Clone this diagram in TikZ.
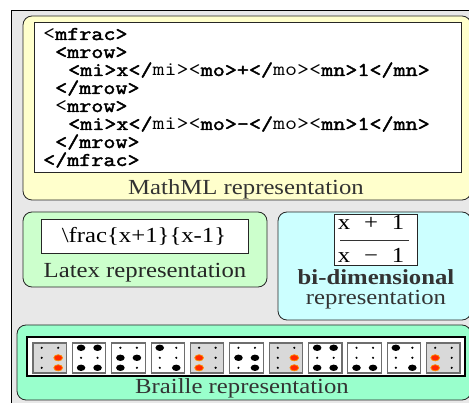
\documentclass[tikz,border=0pt]{standalone}
\usepackage{fontspec}
\newfontfamily\capfont[FakeStretch=1.15]{Liberation Serif}
\newfontfamily\codefont[FakeStretch=1.2, FakeBold=2.2]{Latin Modern Mono}
\newfontfamily\codelite[FakeStretch=1.2]{Latin Modern Mono}
\definecolor{bggray}{HTML}{E8E8E8}
\definecolor{mmlyellow}{HTML}{FFFFCC}
\definecolor{texgreen}{HTML}{CCFFCC}
\definecolor{bicyan}{HTML}{CCFFFF}
\definecolor{braillegreen}{HTML}{99FFCC}
\definecolor{cellgray}{HTML}{D9D9D9}
\definecolor{celledge}{HTML}{6E6E6E}
\definecolor{redot}{HTML}{FF2A00}
\definecolor{redglow}{HTML}{FF9000}
\definecolor{captxt}{HTML}{333333}
\tikzset{
  panel/.style={draw=black!85, line width=0.8pt, rounded corners=9pt},
  inbox/.style={draw=black!85, fill=white, line width=0.8pt},
  caption/.style={font=\capfont\fontsize{21.5}{22}\selectfont, text=captxt, anchor=base, inner sep=0pt},
  codeline/.style={font=\codefont\fontsize{19.5}{19.5}\selectfont, anchor=base west, inner sep=0pt},
  fracglyph/.style={font=\capfont\fontsize{21.5}{22}\selectfont, anchor=base, inner sep=0pt},
  cellbox/.style={draw=celledge, line width=1.1pt},
}
% lighter weight inside a bold code line
\newcommand\lite[1]{{\codelite #1}}
% one Braille dot: 0 = flat, 1 = raised, 2 = raised and highlighted
\newcommand\brailledot[3]{%
  \ifcase#3\relax
    \fill (#1,#2) circle (1.2);
  \or
    \fill (#1,#2) ellipse (4.3 and 3.2);
  \or
    \fill[redot, draw=redglow, line width=0.7pt] (#1,#2) ellipse (4.4 and 3.1);
  \fi}
\begin{document}
\begin{tikzpicture}[x=1pt, y=-1pt]
\useasboundingbox (0,0) rectangle (469,403);
\clip (0,0) rectangle (469,403);

% background frame
\draw[fill=bggray, line width=0.9pt] (11,10) rectangle (490,430);

% MathML panel
\draw[panel, fill=mmlyellow] (23,16) rectangle (471,200);
\draw[inbox] (34,22) rectangle (461,172);
\node[codeline] (m1) at (43,40)  {\lite{<}mfrac>};
\node[codeline] (m2) at (55,58)  {<mrow>};
\node[codeline] (m3) at (68,76)  {<mi>x</\lite{mi><}mo>+</\lite{mo><}mn>1</mn>};
\node[codeline] (m4) at (55,94)  {</mrow>};
\node[codeline] (m5) at (55,112) {\lite{<}mrow>};
\node[codeline] (m6) at (68,130) {<mi>x</\lite{mi><}mo>-</\lite{mo><}mn>1</mn>};
\node[codeline] (m7) at (55,148) {</mrow>};
\node[codeline] (m8) at (43,166) {</mfrac>};
\node[caption] (mmlcap) at (246,195) {MathML representation};

% LaTeX panel
\draw[panel, fill=texgreen] (23,212) rectangle (267,287);
\draw[inbox] (41,219) rectangle (248,253);
\node[fracglyph] (texsrc) at (144,243) {\textbackslash frac\{x+1\}\{x-1\}};
\node[caption, text=black!85] (texcap) at (145,278) {Latex representation};

% two-dimensional panel
\draw[panel, fill=bicyan] (278,212) rectangle (471,320);
\draw[inbox] (334,214) rectangle (417,265);
\node[fracglyph] (nx) at (344,230) {x};
\node[fracglyph] (np) at (371,230) {+};
\node[fracglyph] (n1) at (398,230) {1};
\draw[line width=0.7pt, black!80] (340,240) -- (409,240);
\node[fracglyph] (dx) at (344,263) {x};
\node[fracglyph] (dm) at (371,263) {−};
\node[fracglyph] (d1) at (398,263) {1};
\draw[draw=black!85, line width=0.8pt] (334,214) rectangle (417,265);
\node[caption, font=\capfont\bfseries\fontsize{21.5}{22}\selectfont] (bicap1) at (376,285) {bi-dimensional};
\node[caption] (bicap2) at (376,305) {representation};

% Braille panel
\draw[panel, fill=braillegreen] (17,325) rectangle (471,400);
\draw[fill=white, line width=1.6pt] (27,337) rectangle (465,376);
\foreach \k/\ga/\gb/\gc/\gd/\ge/\gf in {
    0/0/0/0/0/2/2, 1/1/0/1/1/0/1, 2/0/1/1/0/1/0, 3/1/0/0/0/0/1,
    4/0/2/2/0/0/0, 5/0/1/0/0/1/1, 6/0/0/0/0/2/2, 7/1/0/1/1/0/1,
    8/0/0/1/0/0/1, 9/1/0/0/0/0/1, 10/0/2/2/0/0/0} {
  \pgfmathsetmacro\cx{33+39.35*\k}
  \pgfmathtruncatemacro\hl{(\ga==2)||(\gb==2)||(\gc==2)||(\gd==2)||(\ge==2)||(\gf==2)}
  \ifnum\hl=1
    \draw[cellbox, fill=cellgray] (\cx,343) rectangle ++(33.5,30);
  \else
    \draw[cellbox, fill=white] (\cx,343) rectangle ++(33.5,30);
  \fi
  \brailledot{\cx+8.7}{347.8}{\ga}
  \brailledot{\cx+8.7}{357.8}{\gb}
  \brailledot{\cx+8.7}{367.8}{\gc}
  \brailledot{\cx+25.2}{347.8}{\gd}
  \brailledot{\cx+25.2}{357.8}{\ge}
  \brailledot{\cx+25.2}{367.8}{\gf}
}
\node[caption] (brcap) at (242,394) {Braille representation};
\end{tikzpicture}
\end{document}
